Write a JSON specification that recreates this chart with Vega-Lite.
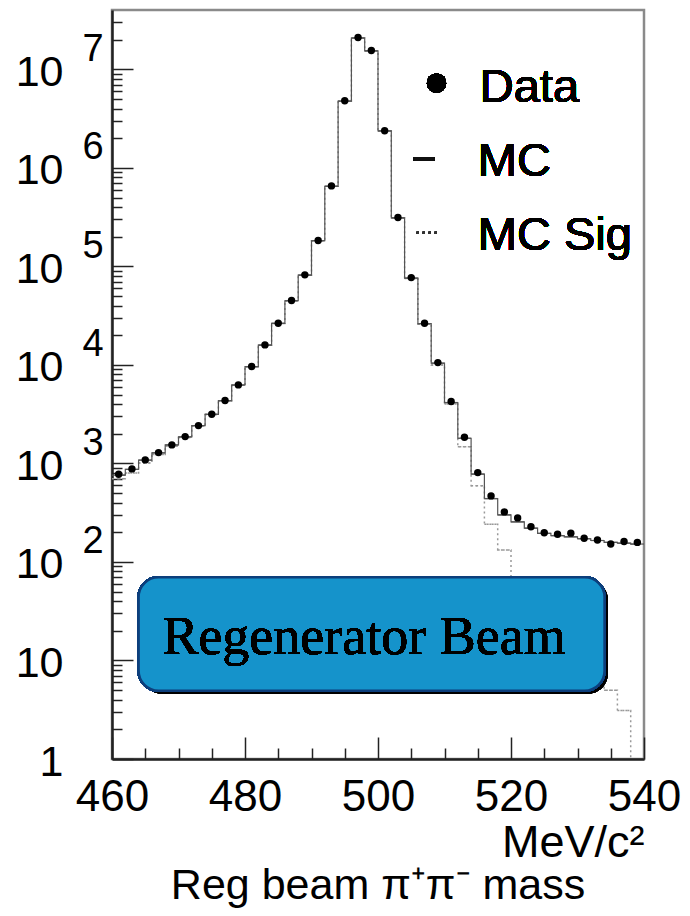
{
  "$schema": "https://vega.github.io/schema/vega-lite/v6.json",
  "width": 532,
  "height": 749,
  "autosize": "none",
  "padding": {"left": 112, "top": 10, "right": 46, "bottom": 157},
  "background": "white",
  "config": {
    "view": {"stroke": "#8a8a8a", "strokeWidth": 2.5},
    "font": "Liberation Sans"
  },
  "title": {
    "text": "Reg beam π⁺π⁻ mass",
    "orient": "bottom",
    "frame": "group",
    "anchor": "middle",
    "fontSize": 43,
    "fontWeight": "normal",
    "font": "Liberation Sans",
    "color": "black",
    "offset": 0
  },
  "data": {
    "values": [
      {"m": 461, "lo": 460, "hi": 462, "data": 776, "mc": 760, "sig": 700},
      {"m": 463, "lo": 462, "hi": 464, "data": 880, "mc": 870, "sig": 800},
      {"m": 465, "lo": 464, "hi": 466, "data": 1086, "mc": 1080, "sig": 1010},
      {"m": 467, "lo": 466, "hi": 468, "data": 1288, "mc": 1280, "sig": 1230},
      {"m": 469, "lo": 468, "hi": 470, "data": 1542, "mc": 1540, "sig": 1500},
      {"m": 471, "lo": 470, "hi": 472, "data": 1871, "mc": 1860, "sig": 1830},
      {"m": 473, "lo": 472, "hi": 474, "data": 2421, "mc": 2420, "sig": 2400},
      {"m": 475, "lo": 474, "hi": 476, "data": 3160, "mc": 3150, "sig": 3130},
      {"m": 477, "lo": 476, "hi": 478, "data": 4345, "mc": 4330, "sig": 4310},
      {"m": 479, "lo": 478, "hi": 480, "data": 6266, "mc": 6250, "sig": 6230},
      {"m": 481, "lo": 480, "hi": 482, "data": 9614, "mc": 9600, "sig": 9580},
      {"m": 483, "lo": 482, "hi": 484, "data": 15960, "mc": 15900, "sig": 15870},
      {"m": 485, "lo": 484, "hi": 486, "data": 26500, "mc": 26400, "sig": 26350},
      {"m": 487, "lo": 486, "hi": 488, "data": 45000, "mc": 44800, "sig": 44700},
      {"m": 489, "lo": 488, "hi": 490, "data": 82000, "mc": 81500, "sig": 81400},
      {"m": 491, "lo": 490, "hi": 492, "data": 183000, "mc": 182000, "sig": 181800},
      {"m": 493, "lo": 492, "hi": 494, "data": 656000, "mc": 650000, "sig": 649000},
      {"m": 495, "lo": 494, "hi": 496, "data": 4790000, "mc": 4760000, "sig": 4755000},
      {"m": 497, "lo": 496, "hi": 498, "data": 21000000, "mc": 20800000, "sig": 20790000},
      {"m": 499, "lo": 498, "hi": 500, "data": 15500000, "mc": 15400000, "sig": 15390000},
      {"m": 501, "lo": 500, "hi": 502, "data": 2380000, "mc": 2370000, "sig": 2365000},
      {"m": 503, "lo": 502, "hi": 504, "data": 313000, "mc": 311000, "sig": 310000},
      {"m": 505, "lo": 504, "hi": 506, "data": 76900, "mc": 76000, "sig": 75500},
      {"m": 507, "lo": 506, "hi": 508, "data": 26500, "mc": 26200, "sig": 25800},
      {"m": 509, "lo": 508, "hi": 510, "data": 10550, "mc": 10400, "sig": 10000},
      {"m": 511, "lo": 510, "hi": 512, "data": 4245, "mc": 4150, "sig": 4000},
      {"m": 513, "lo": 512, "hi": 514, "data": 1845, "mc": 1800, "sig": 1480},
      {"m": 515, "lo": 514, "hi": 516, "data": 807, "mc": 780, "sig": 595},
      {"m": 517, "lo": 516, "hi": 518, "data": 468, "mc": 440, "sig": 241},
      {"m": 519, "lo": 518, "hi": 520, "data": 322, "mc": 300, "sig": 132},
      {"m": 521, "lo": 520, "hi": 522, "data": 280, "mc": 255, "sig": 60},
      {"m": 523, "lo": 522, "hi": 524, "data": 228, "mc": 220, "sig": 35},
      {"m": 525, "lo": 524, "hi": 526, "data": 198, "mc": 195, "sig": 22},
      {"m": 527, "lo": 526, "hi": 528, "data": 191, "mc": 185, "sig": 14},
      {"m": 529, "lo": 528, "hi": 530, "data": 196, "mc": 180, "sig": 10},
      {"m": 531, "lo": 530, "hi": 532, "data": 174, "mc": 172, "sig": 7.5},
      {"m": 533, "lo": 532, "hi": 534, "data": 167, "mc": 165, "sig": 6},
      {"m": 535, "lo": 534, "hi": 536, "data": 152, "mc": 158, "sig": 5},
      {"m": 537, "lo": 536, "hi": 538, "data": 161, "mc": 155, "sig": 3.1},
      {"m": 539, "lo": 538, "hi": 540, "data": 158, "mc": 152, "sig": 0.5}
    ]
  },
  "resolve": {"axis": {"x": "independent", "y": "independent"}},
  "layer": [
    {
      "mark": {"type": "rule", "stroke": "#999999", "strokeWidth": 1.5, "strokeDash": [2, 3], "clip": true},
      "encoding": {
        "x": {"field": "lo", "type": "quantitative", "scale": {"domain": [460, 540], "nice": false, "zero": false}, "axis": null},
        "x2": {"field": "hi"},
        "y": {"field": "sig", "type": "quantitative", "scale": {"type": "log", "domain": [1, 40000000], "nice": false}, "axis": null}
      }
    },
    {
      "mark": {"type": "line", "interpolate": "step", "stroke": "#999999", "strokeWidth": 1.5, "strokeDash": [2, 3], "clip": true},
      "encoding": {
        "x": {"field": "m", "type": "quantitative", "scale": {"domain": [460, 540], "nice": false, "zero": false}, "axis": null},
        "y": {"field": "sig", "type": "quantitative", "scale": {"type": "log", "domain": [1, 40000000], "nice": false},
          "axis": {"orient": "left", "values": [100, 1000, 10000, 100000, 1000000, 10000000], "ticks": false, "domain": false, "grid": false, "title": null,
            "labelExpr": "format(log(datum.value)/LN10, '.0f')", "labelAlign": "left", "labelBaseline": "middle", "labelPadding": 30, "labelOffset": -20,
            "labelFontSize": 38, "labelColor": "black", "labelFont": "Liberation Sans", "labelOverlap": false, "labelFlush": false, "labelBound": false}}
      }
    },
    {
      "mark": {"type": "rule", "stroke": "#555555", "strokeWidth": 1.2, "clip": true},
      "encoding": {
        "x": {"field": "lo", "type": "quantitative", "scale": {"domain": [460, 540], "nice": false, "zero": false}, "axis": null},
        "x2": {"field": "hi"},
        "y": {"field": "mc", "type": "quantitative", "scale": {"type": "log", "domain": [1, 40000000], "nice": false}, "axis": null}
      }
    },
    {
      "mark": {"type": "line", "interpolate": "step", "stroke": "#555555", "strokeWidth": 1.2, "clip": true},
      "encoding": {
        "x": {"field": "m", "type": "quantitative", "scale": {"domain": [460, 540], "nice": false, "zero": false},
          "axis": {"orient": "bottom", "values": [465, 470, 475, 485, 490, 495, 505, 510, 515, 525, 530, 535], "tickSize": -11, "tickColor": "#222222", "tickWidth": 1.5,
            "labels": false, "domain": false, "grid": false, "title": null}},
        "y": {"field": "mc", "type": "quantitative", "scale": {"type": "log", "domain": [1, 40000000], "nice": false},
          "axis": {"orient": "left",
            "values": [2, 3, 4, 5, 6, 7, 8, 9, 20, 30, 40, 50, 60, 70, 80, 90, 200, 300, 400, 500, 600, 700, 800, 900, 2000, 3000, 4000, 5000, 6000, 7000, 8000, 9000, 20000, 30000, 40000, 50000, 60000, 70000, 80000, 90000, 200000, 300000, 400000, 500000, 600000, 700000, 800000, 900000, 2000000, 3000000, 4000000, 5000000, 6000000, 7000000, 8000000, 9000000, 20000000, 30000000],
            "tickSize": -10, "tickColor": "#222222", "tickWidth": 1.5, "labels": false, "domain": false, "grid": false, "title": null}}
      }
    },
    {
      "mark": {"type": "point", "shape": "circle", "filled": true, "fill": "black", "strokeWidth": 0, "opacity": 1, "size": 55, "clip": true},
      "encoding": {
        "x": {"field": "m", "type": "quantitative", "scale": {"domain": [460, 540], "nice": false, "zero": false},
          "axis": {"orient": "bottom", "values": [460, 480, 500, 520, 540], "tickSize": -22, "tickColor": "#222222", "tickWidth": 1.5,
            "domain": true, "domainColor": "#222222", "domainWidth": 2.5, "grid": false,
            "labelFontSize": 44, "labelColor": "black", "labelFont": "Liberation Sans", "labelPadding": 38, "labelOverlap": false, "labelFlush": false, "labelBound": false,
            "title": "MeV/c²", "titleAnchor": "end", "titleAlign": "right", "titleFontSize": 45, "titleFontWeight": "normal", "titleFont": "Liberation Sans", "titleColor": "black", "titlePadding": 1}},
        "y": {"field": "data", "type": "quantitative", "scale": {"type": "log", "domain": [1, 40000000], "nice": false},
          "axis": {"orient": "left", "values": [1, 10, 100, 1000, 10000, 100000, 1000000, 10000000], "tickSize": -21, "tickColor": "#222222", "tickWidth": 1.5,
            "domain": true, "domainColor": "#222222", "domainWidth": 2.5, "grid": false, "title": null,
            "labelExpr": "datum.value == 1 ? '1' : '10'", "labelAlign": "right", "labelBaseline": "middle", "labelPadding": 70, "labelOffset": 3,
            "labelFontSize": 43, "labelColor": "black", "labelFont": "Liberation Sans", "labelOverlap": false, "labelFlush": false, "labelBound": false}}
      }
    },
    {
      "mark": {"type": "rect", "cornerRadius": 20, "fill": "#000000", "opacity": 0.22},
      "encoding": {
        "x": {"datum": 464.5, "type": "quantitative", "axis": null},
        "x2": {"datum": 534.55},
        "y": {"datum": 66, "type": "quantitative", "axis": null},
        "y2": {"datum": 4.6}
      }
    },
    {
      "mark": {"type": "rect", "cornerRadius": 20, "fill": "#1593cb", "stroke": "#0d3f7c", "strokeWidth": 2.5},
      "encoding": {
        "x": {"datum": 464.0, "type": "quantitative", "axis": null},
        "x2": {"datum": 534.07},
        "y": {"datum": 69.9, "type": "quantitative", "axis": null},
        "y2": {"datum": 4.935}
      }
    },
    {
      "mark": {"type": "text", "text": "Regenerator Beam", "font": "Liberation Serif", "fontSize": 54, "align": "center", "baseline": "alphabetic", "fill": "black", "strokeWidth": 0},
      "encoding": {
        "x": {"datum": 497.9, "type": "quantitative", "axis": null},
        "y": {"datum": 11.6, "type": "quantitative", "axis": null}
      }
    },
    {
      "mark": {"type": "point", "shape": "circle", "filled": true, "fill": "black", "strokeWidth": 0, "opacity": 1, "size": 370},
      "encoding": {
        "x": {"datum": 508.8, "type": "quantitative", "axis": null},
        "y": {"datum": 7240000, "type": "quantitative", "axis": null}
      }
    },
    {
      "mark": {"type": "rule", "stroke": "#111111", "strokeWidth": 2.5},
      "encoding": {
        "x": {"datum": 505.29, "type": "quantitative", "axis": null},
        "x2": {"datum": 508.54},
        "y": {"datum": 1233000, "type": "quantitative", "axis": null}
      }
    },
    {
      "mark": {"type": "rule", "stroke": "#333333", "strokeWidth": 2, "strokeDash": [2, 4]},
      "encoding": {
        "x": {"datum": 505.84, "type": "quantitative", "axis": null},
        "x2": {"datum": 508.8},
        "y": {"datum": 219000, "type": "quantitative", "axis": null}
      }
    },
    {
      "mark": {"type": "text", "text": "Data", "font": "Liberation Sans", "fontSize": 47, "align": "left", "baseline": "alphabetic", "fill": "black", "strokeWidth": 0},
      "encoding": {
        "x": {"datum": 515.3, "type": "quantitative", "axis": null},
        "y": {"datum": 4710000, "type": "quantitative", "axis": null}
      }
    },
    {
      "mark": {"type": "text", "text": "MC", "font": "Liberation Sans", "fontSize": 47, "align": "left", "baseline": "alphabetic", "fill": "black", "strokeWidth": 0},
      "encoding": {
        "x": {"datum": 515.0, "type": "quantitative", "axis": null},
        "y": {"datum": 829000, "type": "quantitative", "axis": null}
      }
    },
    {
      "mark": {"type": "text", "text": "MC Sig", "font": "Liberation Sans", "fontSize": 47, "align": "left", "baseline": "alphabetic", "fill": "black", "strokeWidth": 0},
      "encoding": {
        "x": {"datum": 515.0, "type": "quantitative", "axis": null},
        "y": {"datum": 147000, "type": "quantitative", "axis": null}
      }
    }
  ]
}
